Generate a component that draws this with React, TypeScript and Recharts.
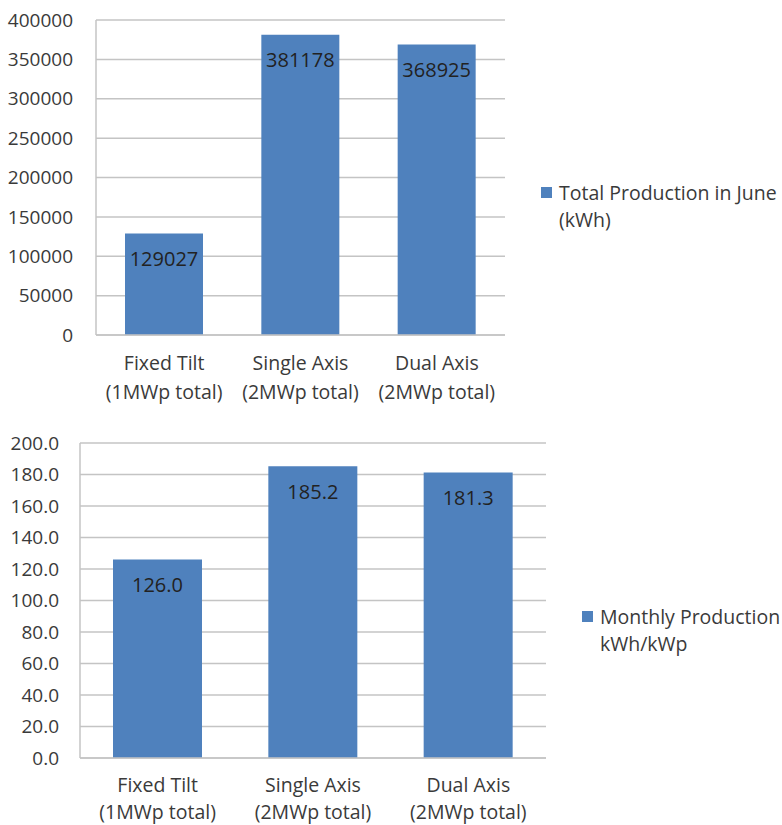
import { BarChart, Bar, XAxis, YAxis, CartesianGrid, LabelList, Legend } from 'recharts'

const categoryNames = ['Fixed Tilt', 'Single Axis', 'Dual Axis']
const categoryCapacity = ['(1MWp total)', '(2MWp total)', '(2MWp total)']
const totalJune = [129027, 381178, 368925]
const monthlyPerKwp = [126.0, 185.2, 181.3]
const topTicks = [0, 50000, 100000, 150000, 200000, 250000, 300000, 350000, 400000]
const bottomTicks = [0, 20, 40, 60, 80, 100, 120, 140, 160, 180, 200]
const topSeriesName = 'Total Production in June\n(kWh)'
const bottomSeriesName = 'Monthly Production\nkWh/kWp'

const BLUE = '#4f81bd'
const GRID = '#c4c4c4'
const TEXT = '#3a3a3a'
const FONT = '"Open Sans", sans-serif'

const topData = categoryNames.map((name, i) => ({ name, sub: categoryCapacity[i], value: totalJune[i] }))
const bottomData = categoryNames.map((name, i) => ({ name, sub: categoryCapacity[i], value: monthlyPerKwp[i] }))

const CategoryTick = (props: any) => {
  const { x, y, payload, index, first = 27, second = 29 } = props
  return (
    <text x={x} y={y} textAnchor="middle" fill={TEXT} fontSize={19.5} fontFamily={FONT}>
      <tspan x={x} dy={first}>{payload.value}</tspan>
      <tspan x={x} dy={second}>{categoryCapacity[index]}</tspan>
    </text>
  )
}

const LegendBox = (props: any) => {
  const item = props.payload?.[0]
  if (!item) return null
  return (
    <div style={{ display: 'flex', alignItems: 'flex-start', fontFamily: FONT, fontSize: 19.5, color: TEXT }}>
      <div style={{ width: 11, height: 11, background: BLUE, marginTop: 8, marginRight: 7, flexShrink: 0 }} />
      <div style={{ whiteSpace: 'pre', lineHeight: '27px' }}>{item.value}</div>
    </div>
  )
}

export default function App() {
  return (
    <div style={{ position: 'absolute', left: 0, top: 0, width: 782, height: 825, overflow: 'hidden', background: '#fff' }}>
      <div style={{ position: 'absolute', left: 0, top: 0 }}>
        <BarChart width={782} height={410} data={topData} margin={{ top: 20, right: 277, bottom: 0, left: 0 }}>
          <CartesianGrid vertical={false} stroke={GRID} strokeWidth={1.5} />
          <XAxis dataKey="name" height={75} interval={0} tickLine={false} axisLine={{ stroke: GRID, strokeWidth: 1.5 }} tick={<CategoryTick />} />
          <YAxis
            width={96}
            domain={[0, 400000]}
            ticks={topTicks}
            interval={0}
            tickLine={false}
            tickSize={0}
            tickMargin={23}
            axisLine={{ stroke: GRID, strokeWidth: 1.5 }}
            tick={{ fill: TEXT, fontSize: 19, fontFamily: FONT }}
          />
          <Legend layout="horizontal" align="center" verticalAlign="middle" content={<LegendBox />} wrapperStyle={{ left: 541, top: 179, width: 241 }} />
          <Bar dataKey="value" name={topSeriesName} fill={BLUE} barSize={78} isAnimationActive={false}>
            <LabelList dataKey="value" position="insideTop" offset={18} fill="#222" fontSize={20} fontFamily={FONT} />
          </Bar>
        </BarChart>
      </div>
      <div style={{ position: 'absolute', left: 0, top: 420 }}>
        <BarChart width={782} height={405} data={bottomData} margin={{ top: 23, right: 236, bottom: 0, left: 0 }}>
          <CartesianGrid vertical={false} stroke={GRID} strokeWidth={1.5} />
          <XAxis dataKey="name" height={67} interval={0} tickLine={false} axisLine={{ stroke: GRID, strokeWidth: 1.5 }} tick={<CategoryTick first={26} second={27} />} />
          <YAxis
            width={80}
            domain={[0, 200]}
            ticks={bottomTicks}
            interval={0}
            tickLine={false}
            tickSize={0}
            tickMargin={21}
            axisLine={{ stroke: GRID, strokeWidth: 1.5 }}
            tick={{ fill: TEXT, fontSize: 19, fontFamily: FONT }}
            tickFormatter={(v: number) => v.toFixed(1)}
          />
          <Legend layout="horizontal" align="center" verticalAlign="middle" content={<LegendBox />} wrapperStyle={{ left: 582, top: 183, width: 200 }} />
          <Bar dataKey="value" name={bottomSeriesName} fill={BLUE} barSize={89} isAnimationActive={false}>
            <LabelList dataKey="value" position="insideTop" offset={18} fill="#222" fontSize={20} fontFamily={FONT} formatter={(v: any) => Number(v).toFixed(1)} />
          </Bar>
        </BarChart>
      </div>
    </div>
  )
}
